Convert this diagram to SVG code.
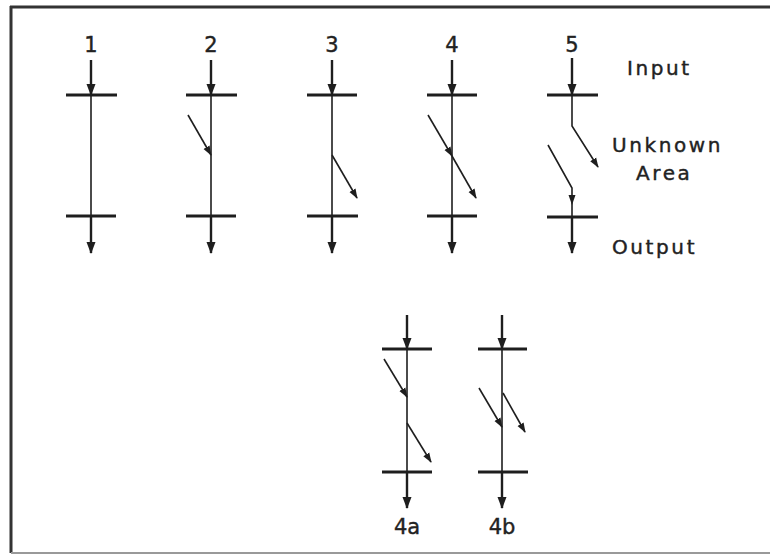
<svg xmlns="http://www.w3.org/2000/svg" width="770" height="557" viewBox="0 0 770 557">
<style>
.bar{stroke:#1e1e1e;stroke-width:3;fill:none}
.stem{stroke:#1e1e1e;stroke-width:1.6;fill:none}
.io{stroke:#1e1e1e;stroke-width:2.4;fill:none}
.diag{stroke:#1e1e1e;stroke-width:1.6;fill:none}
.lbl{font-family:"DejaVu Sans",sans-serif;font-size:21px;fill:#222;stroke:#222;stroke-width:0.4;text-anchor:middle}
.word{font-family:"DejaVu Sans",sans-serif;font-size:20px;fill:#222;stroke:#222;stroke-width:0.4;letter-spacing:2.6px}
</style>
<defs>
<marker id="ah" markerUnits="userSpaceOnUse" markerWidth="12" markerHeight="12" viewBox="0 0 12 12" refX="11" refY="6" orient="auto">
<path d="M0,1.5 L12,6 L0,10.5 Z" fill="#1e1e1e"/>
</marker>
<marker id="sh" markerUnits="userSpaceOnUse" markerWidth="10" markerHeight="8" viewBox="0 0 10 8" refX="9" refY="4" orient="auto">
<path d="M0,0.5 L10,4 L0,7.5 Z" fill="#1e1e1e"/>
</marker>
</defs>
<g id="frame">
<line x1="10" y1="7" x2="770" y2="7" stroke="#333" stroke-width="3"/>
<line x1="11" y1="6" x2="11" y2="553" stroke="#333" stroke-width="3"/>
<line x1="11" y1="553" x2="770" y2="553" stroke="#999" stroke-width="2"/>
</g>
<g id="connectors">
<line class="io" x1="91" y1="60" x2="91" y2="95" marker-end="url(#ah)"/>
<line class="stem" x1="91" y1="95" x2="91" y2="216"/>
<line class="io" x1="91" y1="216" x2="91" y2="253" marker-end="url(#ah)"/>
<line class="io" x1="211" y1="60" x2="211" y2="95" marker-end="url(#ah)"/>
<line class="stem" x1="211" y1="95" x2="211" y2="216"/>
<line class="diag" x1="188" y1="115" x2="211" y2="155" marker-end="url(#sh)"/>
<line class="io" x1="211" y1="216" x2="211" y2="253" marker-end="url(#ah)"/>
<line class="io" x1="332" y1="60" x2="332" y2="95" marker-end="url(#ah)"/>
<line class="stem" x1="332" y1="95" x2="332" y2="216"/>
<line class="diag" x1="332" y1="155" x2="357" y2="198" marker-end="url(#sh)"/>
<line class="io" x1="332" y1="216" x2="332" y2="253" marker-end="url(#ah)"/>
<line class="io" x1="452" y1="60" x2="452" y2="95" marker-end="url(#ah)"/>
<line class="stem" x1="452" y1="95" x2="452" y2="216"/>
<line class="diag" x1="428" y1="115" x2="452" y2="156" marker-end="url(#sh)"/>
<line class="diag" x1="452" y1="156" x2="476" y2="198" marker-end="url(#sh)"/>
<line class="io" x1="452" y1="216" x2="452" y2="253" marker-end="url(#ah)"/>
<line class="io" x1="572" y1="58" x2="572" y2="95" marker-end="url(#ah)"/>
<path class="diag" d="M572,95 L572,126 L598,167" marker-end="url(#sh)"/>
<path class="diag" d="M548,145 L572,188 L572,204" marker-end="url(#sh)"/>
<line class="stem" x1="572" y1="204" x2="572" y2="217"/>
<line class="io" x1="572" y1="217" x2="572" y2="253" marker-end="url(#ah)"/>
<line class="io" x1="407" y1="315" x2="407" y2="349" marker-end="url(#ah)"/>
<line class="stem" x1="407" y1="349" x2="407" y2="472"/>
<line class="diag" x1="384" y1="359" x2="407" y2="397" marker-end="url(#sh)"/>
<line class="diag" x1="407" y1="423" x2="431" y2="462" marker-end="url(#sh)"/>
<line class="io" x1="407" y1="472" x2="407" y2="508" marker-end="url(#ah)"/>
<line class="io" x1="502" y1="315" x2="502" y2="349" marker-end="url(#ah)"/>
<line class="stem" x1="502" y1="349" x2="502" y2="472"/>
<line class="diag" x1="479" y1="388" x2="502" y2="427" marker-end="url(#sh)"/>
<line class="diag" x1="503" y1="393" x2="525" y2="432" marker-end="url(#sh)"/>
<line class="io" x1="502" y1="472" x2="502" y2="508" marker-end="url(#ah)"/>
</g>
<g id="node-1">
<text class="lbl" x="91" y="52">1</text>
<line class="bar" x1="66" y1="95" x2="117" y2="95"/>
<line class="bar" x1="66" y1="216" x2="116" y2="216"/>
</g>
<g id="node-2">
<text class="lbl" x="211" y="52">2</text>
<line class="bar" x1="186" y1="95" x2="237" y2="95"/>
<line class="bar" x1="186" y1="216" x2="236" y2="216"/>
</g>
<g id="node-3">
<text class="lbl" x="332" y="52">3</text>
<line class="bar" x1="307" y1="95" x2="357" y2="95"/>
<line class="bar" x1="307" y1="216" x2="358" y2="216"/>
</g>
<g id="node-4">
<text class="lbl" x="452" y="52">4</text>
<line class="bar" x1="427" y1="95" x2="477" y2="95"/>
<line class="bar" x1="427" y1="216" x2="477" y2="216"/>
</g>
<g id="node-5">
<text class="lbl" x="572" y="52">5</text>
<line class="bar" x1="547" y1="95" x2="598" y2="95"/>
<line class="bar" x1="547" y1="217" x2="598" y2="217"/>
</g>
<g id="node-4a">
<line class="bar" x1="382" y1="349" x2="432" y2="349"/>
<line class="bar" x1="382" y1="472" x2="432" y2="472"/>
<text class="lbl" x="407" y="534">4a</text>
</g>
<g id="node-4b">
<line class="bar" x1="478" y1="349" x2="527" y2="349"/>
<line class="bar" x1="478" y1="472" x2="528" y2="472"/>
<text class="lbl" x="502" y="534">4b</text>
</g>
<g id="legend">
<text class="word" x="627" y="75">Input</text>
<text class="word" x="612" y="152">Unknown</text>
<text class="word" x="636" y="180">Area</text>
<text class="word" x="612" y="254">Output</text>
</g>
</svg>
